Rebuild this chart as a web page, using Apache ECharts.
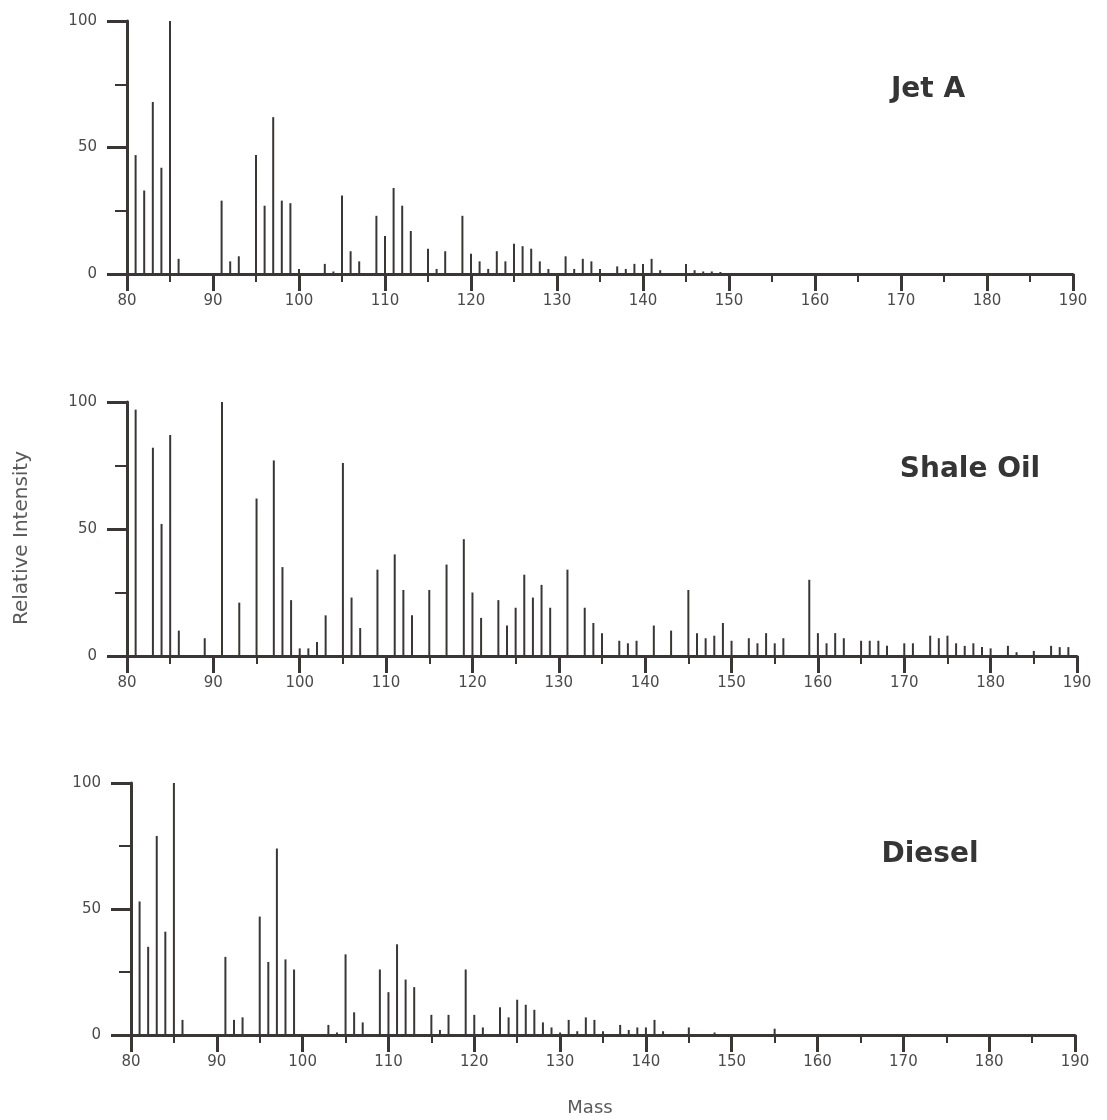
<!DOCTYPE html>
<html>
<head>
<meta charset="utf-8">
<script src="https://cdn.jsdelivr.net/npm/echarts@6/dist/echarts.min.js"></script>
<style>
html,body{margin:0;padding:0;background:#fff;}
#c{width:1107px;height:1120px;}
</style>
</head>
<body>
<div id="c"></div>
<script>
// ---- Data (m/z, relative intensity) ----
const xTicks = [80, 90, 100, 110, 120, 130, 140, 150, 160, 170, 180, 190];
const yTicks = [0, 50, 100];
const panelNames = ["Jet A", "Shale Oil", "Diesel"];

const jetMass = [81, 82, 83, 84, 85, 86, 91, 92, 93, 95, 96, 97, 98, 99, 100, 103, 104, 105, 106, 107,
  109, 110, 111, 112, 113, 115, 116, 117, 119, 120, 121, 122, 123, 124, 125, 126, 127, 128, 129,
  131, 132, 133, 134, 135, 137, 138, 139, 140, 141, 142, 145, 146, 147, 148, 149];
const jetInt = [47, 33, 68, 42, 100, 6, 29, 5, 7, 47, 27, 62, 29, 28, 2, 4, 1, 31, 9, 5,
  23, 15, 34, 27, 17, 10, 2, 9, 23, 8, 5, 2, 9, 5, 12, 11, 10, 5, 2,
  7, 2, 6, 5, 2, 3, 2, 4, 4, 6, 1.5, 4, 1.5, 1, 1, 0.8];

const shaleMass = [81, 83, 84, 85, 86, 89, 91, 93, 95, 97, 98, 99, 100, 101, 102, 103, 105, 106, 107,
  109, 111, 112, 113, 115, 117, 119, 120, 121, 123, 124, 125, 126, 127, 128, 129, 131, 133, 134, 135,
  137, 138, 139, 141, 143, 145, 146, 147, 148, 149, 150, 152, 153, 154, 155, 156, 159, 160, 161, 162, 163,
  165, 166, 167, 168, 170, 171, 173, 174, 175, 176, 177, 178, 179, 180, 182, 183, 185, 187, 188, 189];
const shaleInt = [97, 82, 52, 87, 10, 7, 100, 21, 62, 77, 35, 22, 3, 3, 5.5, 16, 76, 23, 11,
  34, 40, 26, 16, 26, 36, 46, 25, 15, 22, 12, 19, 32, 23, 28, 19, 34, 19, 13, 9,
  6, 5, 6, 12, 10, 26, 9, 7, 8, 13, 6, 7, 5, 9, 5, 7, 30, 9, 5, 9, 7,
  6, 6, 6, 4, 5, 5, 8, 7, 8, 5, 4, 5, 3.5, 3, 4, 1.5, 2, 4, 3.5, 3.5];

const dieselMass = [81, 82, 83, 84, 85, 86, 91, 92, 93, 95, 96, 97, 98, 99, 103, 104, 105, 106, 107,
  109, 110, 111, 112, 113, 115, 116, 117, 119, 120, 121, 123, 124, 125, 126, 127, 128, 129, 130,
  131, 132, 133, 134, 135, 137, 138, 139, 140, 141, 142, 145, 148, 155];
const dieselInt = [53, 35, 79, 41, 100, 6, 31, 6, 7, 47, 29, 74, 30, 26, 4, 1, 32, 9, 5,
  26, 17, 36, 22, 19, 8, 2, 8, 26, 8, 3, 11, 7, 14, 12, 10, 5, 3, 1,
  6, 1.5, 7, 6, 1.5, 4, 2, 3, 3, 6, 1.5, 3, 1, 2.5];

const panels = [
  {mass: jetMass, inten: jetInt},
  {mass: shaleMass, inten: shaleInt},
  {mass: dieselMass, inten: dieselInt}
];

// ---- Layout ----
const grids = [
  {left: 127, top: 21, width: 946, height: 253},
  {left: 127, top: 402, width: 950, height: 254},
  {left: 131, top: 783, width: 944, height: 252}
];
const titlePos = [
  {x: 928, y: 90},
  {x: 970, y: 470},
  {x: 930, y: 855}
];

const ink = '#3a3636';
const labelColor = '#4a4a4a';
const fontFam = 'DejaVu Sans';

const option = {
  backgroundColor: '#ffffff',
  animation: false,
  grid: grids,
  xAxis: grids.map((g, i) => ({
    type: 'value', gridIndex: i,
    min: xTicks[0], max: xTicks[xTicks.length - 1], interval: xTicks[1] - xTicks[0],
    axisLine: {show: true, onZero: false, lineStyle: {color: ink, width: 3}},
    axisTick: {show: true, length: 17, lineStyle: {color: ink, width: 3}},
    minorTick: {show: true, splitNumber: 2, length: 8, lineStyle: {color: ink, width: 2}},
    splitLine: {show: false},
    axisLabel: {color: labelColor, fontFamily: fontFam, fontSize: 15, margin: 20}
  })),
  yAxis: grids.map((g, i) => ({
    type: 'value', gridIndex: i,
    min: yTicks[0], max: yTicks[yTicks.length - 1], interval: yTicks[1] - yTicks[0],
    axisLine: {show: true, lineStyle: {color: ink, width: 3}},
    axisTick: {show: true, length: 20, lineStyle: {color: ink, width: 3}},
    minorTick: {show: true, splitNumber: 2, length: 12, lineStyle: {color: ink, width: 2}},
    splitLine: {show: false},
    axisLabel: {color: labelColor, fontFamily: fontFam, fontSize: 15, margin: 30}
  })),
  series: panels.map((p, i) => ({
    type: 'bar',
    xAxisIndex: i, yAxisIndex: i,
    barWidth: 2,
    itemStyle: {color: ink},
    silent: true,
    data: p.mass.map((m, k) => [m, p.inten[k]])
  })),
  graphic: [
    ...panelNames.map((name, i) => ({
      type: 'text',
      x: titlePos[i].x, y: titlePos[i].y,
      style: {
        text: name, fill: '#353535',
        font: 'bold 28px "DejaVu Sans"',
        textAlign: 'center', textVerticalAlign: 'middle'
      }
    })),
    {
      type: 'text',
      x: 22, y: 538, rotation: Math.PI / 2,
      style: {
        text: 'Relative Intensity', fill: '#5a5a5a',
        font: '20px "DejaVu Sans"',
        textAlign: 'center', textVerticalAlign: 'middle'
      }
    },
    {
      type: 'text',
      x: 590, y: 1108,
      style: {
        text: 'Mass', fill: '#5a5a5a',
        font: '18px "DejaVu Sans"',
        textAlign: 'center', textVerticalAlign: 'middle'
      }
    }
  ]
};

const chart = echarts.init(document.getElementById('c'), null, {renderer: 'canvas'});
chart.setOption(option);
</script>
</body>
</html>
